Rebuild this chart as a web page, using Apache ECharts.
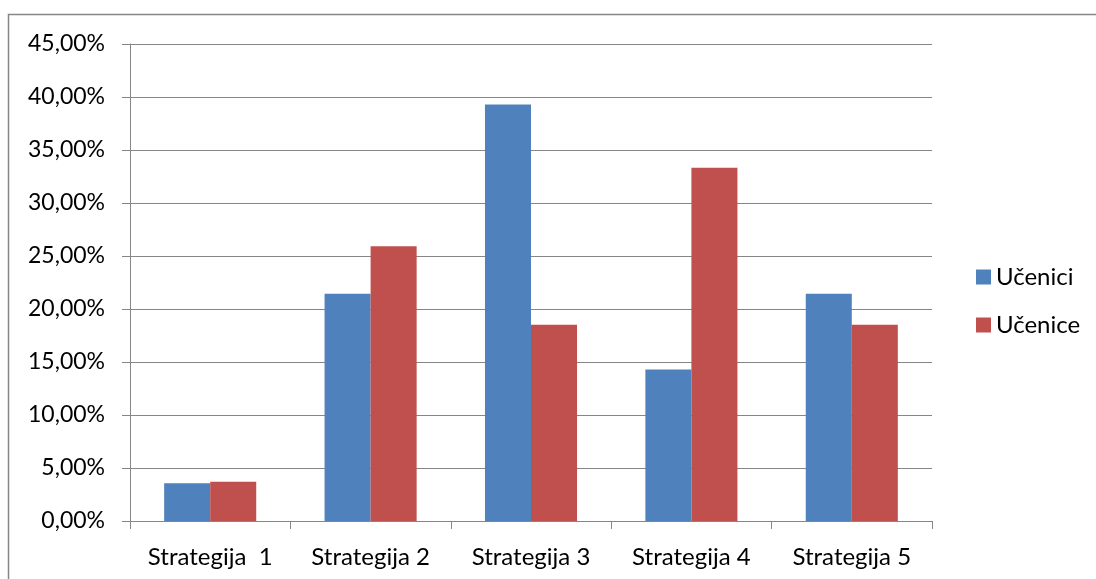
<!DOCTYPE html>
<html>
<head>
<meta charset="utf-8">
<script src="https://cdn.jsdelivr.net/npm/echarts@6/dist/echarts.min.js"></script>
<style>
  html, body { margin: 0; padding: 0; background: #fff; }
  #chart { width: 1096px; height: 579px; }
</style>
</head>
<body>
<div id="chart"></div>
<script>
// Category labels along the horizontal axis
const categories = ['Strategija  1', 'Strategija 2', 'Strategija 3', 'Strategija 4', 'Strategija 5'];
// Share per strategy, in percent
const ucenici = [3.57, 21.43, 39.29, 14.29, 21.43];
const ucenice = [3.70, 25.93, 18.52, 33.33, 18.52];
const seriesNames = ['Učenici', 'Učenice'];
// Value axis range
const yMin = 0;
const yMax = 45;
const yStep = 5;

const FONT = 'Lato';
const GRAY = '#868686';

const chart = echarts.init(document.getElementById('chart'), null, { renderer: 'canvas' });

chart.setOption({
  animation: false,
  backgroundColor: '#ffffff',
  textStyle: { fontFamily: FONT },
  graphic: [{
    type: 'rect',
    shape: { x: 8.5, y: 14.5, width: 1200, height: 700 },
    style: { fill: 'none', stroke: GRAY, lineWidth: 1.5 },
    silent: true,
    z: -10
  }],
  grid: { left: 130, right: 164, top: 44, bottom: 58, containLabel: false },
  legend: {
    orient: 'vertical',
    left: 976,
    top: 265,
    padding: 0,
    icon: 'rect',
    itemWidth: 15,
    itemHeight: 15,
    itemGap: 24,
    textStyle: { fontFamily: FONT, fontSize: 24, color: '#000', lineHeight: 24 },
    data: seriesNames
  },
  xAxis: {
    type: 'category',
    data: categories,
    axisLine: { show: true, lineStyle: { color: GRAY, width: 1 } },
    axisTick: { show: true, length: 8, lineStyle: { color: GRAY } },
    axisLabel: { fontFamily: FONT, fontSize: 24, color: '#000', margin: 24, interval: 0 },
    splitLine: { show: false }
  },
  yAxis: {
    type: 'value',
    min: yMin,
    max: yMax,
    interval: yStep,
    axisLine: { show: true, lineStyle: { color: GRAY, width: 1 } },
    axisTick: { show: true, inside: false, length: 8, lineStyle: { color: GRAY } },
    axisLabel: {
      fontFamily: FONT, fontSize: 23, color: '#000', margin: 25,
      formatter: v => v.toFixed(2).replace('.', ',') + '%'
    },
    splitLine: { show: true, lineStyle: { color: GRAY, width: 1 } }
  },
  series: [
    {
      name: seriesNames[0],
      type: 'bar',
      data: ucenici,
      barGap: '0%',
      barCategoryGap: '42.6%',
      itemStyle: { color: '#4F81BD' }
    },
    {
      name: seriesNames[1],
      type: 'bar',
      data: ucenice,
      barGap: '0%',
      barCategoryGap: '42.6%',
      itemStyle: { color: '#C0504D' }
    }
  ]
});
</script>
</body>
</html>
